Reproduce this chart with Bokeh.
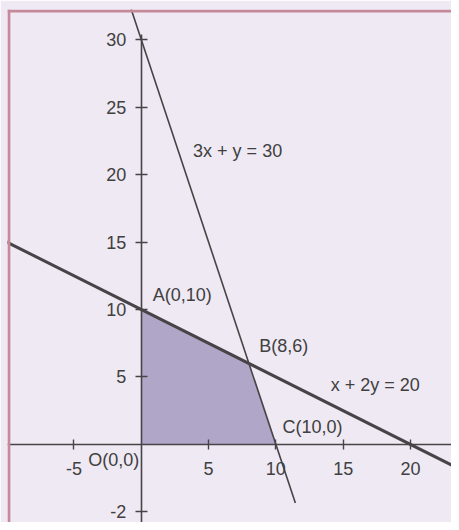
from bokeh.plotting import figure
from bokeh.models import Span, FixedTicker, Range1d
from bokeh.core.properties import value
from bokeh.embed import file_html
from bokeh.resources import INLINE

# ---- data ----
# constraint 1: 3x + y = 30
c1_a, c1_b, c1_c = 3, 1, 30
c1_x = [-0.75, 11.45]
# constraint 2: x + 2y = 20
c2_a, c2_b, c2_c = 1, 2, 20
c2_x = [-10.5, 24.0]
# feasible region corners O, A, B, C
region_x = [0, 0, 8, 10]
region_y = [0, 10, 6, 0]
# tick values and labels
x_ticks = [-5, 5, 10, 15, 20]
x_tick_labels = ["-5", "5", "10", "15", "20"]
y_ticks = [-5, 5, 10, 15, 20, 25, 30]
y_tick_labels = ["-2", "5", "10", "15", "20", "25", "30"]
# annotations
labels = ["3x + y = 30", "A(0,10)", "B(8,6)", "x + 2y = 20", "C(10,0)", "O(0,0)"]
label_x = [3.85, 0.85, 8.76, 14.07, 10.5, -3.94]
label_y = [21.72, 11.07, 7.28, 4.43, 1.26, -1.15]

BG = "#efe9f3"
INK = "#474346"
PINK = "#c48a9a"
FONT = "Liberation Sans"
FS = "18px"

x_start, x_end = -9.94, 23.05
y_start, y_end = -5.79, 32.24
border_x, border_y = -9.84, 32.13

p = figure(width=451, height=522, output_backend="svg", toolbar_location=None,
           x_range=Range1d(x_start, x_end), y_range=Range1d(y_start, y_end),
           min_border_left=7, min_border_top=9, min_border_right=0, min_border_bottom=0)
p.background_fill_color = BG
p.border_fill_color = BG
p.outline_line_color = None
p.grid.visible = False

# region
p.patch(region_x, region_y, fill_color="#b0a6c8", line_color=None)

# constraint lines
c1_y = [(c1_c - c1_a * x) / c1_b for x in c1_x]
c2_y = [(c2_c - c2_a * x) / c2_b for x in c2_x]
p.line(c1_x, c1_y, line_color=INK, line_width=1.6)
p.line(c2_x, c2_y, line_color=INK, line_width=3)

# axes through origin
for ax in (p.xaxis, p.yaxis):
    ax.fixed_location = 0
    ax.axis_line_color = INK
    ax.axis_line_width = 1.6
    ax.major_tick_line_color = INK
    ax.major_tick_line_width = 1.4
    ax.minor_tick_line_color = None
    ax.major_label_text_font = FONT
    ax.major_label_text_font_size = FS
    ax.major_label_text_color = "#404040"

p.xaxis.ticker = FixedTicker(ticks=x_ticks)
p.xaxis.major_label_overrides = {t: l for t, l in zip(x_ticks, x_tick_labels)}
p.xaxis.major_tick_in = 5
p.xaxis.major_tick_out = 5
p.xaxis.major_label_standoff = 13

p.yaxis.ticker = FixedTicker(ticks=y_ticks)
p.yaxis.major_label_overrides = {t: l for t, l in zip(y_ticks, y_tick_labels)}
p.yaxis.major_tick_in = 6
p.yaxis.major_tick_out = 6
p.yaxis.major_label_standoff = 9
p.yaxis.bounds = (y_start, 30.4)

# labels
p.text(label_x, label_y, text=labels, text_font=value(FONT), text_font_size=FS,
       text_color="#404040", text_baseline="middle", text_align="left")

# pink frame border (top and left)
p.add_layout(Span(location=border_x, dimension="height", line_color=PINK, line_width=3))
p.add_layout(Span(location=border_y, dimension="width", line_color=PINK, line_width=3))

open("out.html", "w").write(file_html(p, INLINE))
